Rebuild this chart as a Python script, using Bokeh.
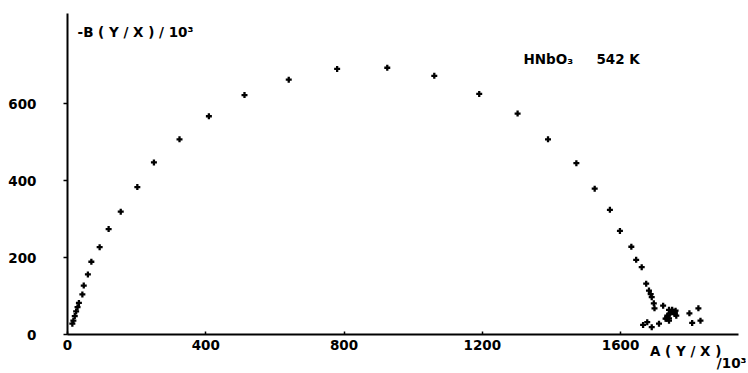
from bokeh.plotting import figure
from bokeh.models import Range1d, FixedTicker, Label, ColumnDataSource, LinearAxis
from bokeh.embed import file_html
from bokeh.resources import INLINE

# A(Y/X)/10^3 and -B(Y/X)/10^3
A_vals = [14, 17, 21, 25, 29, 33, 43, 47, 59, 69, 93, 119, 154, 202, 250, 324,
          409, 512, 640, 780, 925, 1061, 1191, 1302, 1390, 1472, 1525, 1569,
          1598, 1631, 1645, 1661, 1674, 1682, 1687, 1690, 1696, 1698,
          1723, 1749, 1742, 1757, 1735, 1730, 1740, 1761, 1799, 1825, 1807, 1831,
          1711, 1690, 1677, 1665,
          1740, 1749, 1759, 1745, 1757, 1735, 1740, 1733]
B_vals = [28, 36, 48, 60, 71, 82, 104, 127, 156, 189, 227, 274, 319, 383, 447, 507,
          567, 622, 662, 690, 693, 672, 625, 574, 507, 445, 379, 324,
          269, 228, 194, 175, 132, 114, 105, 97, 81, 68,
          75, 62, 54, 58, 45, 41, 36, 49, 55, 68, 30, 36,
          28, 19, 32, 25,
          64, 64, 62, 57, 53, 49, 42, 41]

x_ticks = [0, 400, 800, 1200, 1600]
y_ticks = [0, 200, 400, 600]

y_title = "-B ( Y / X )   /  10³"
x_title_a = "A ( Y / X )"
x_title_b = "/10³"
x_title_pos = [1788, 1927]
compound = "HNbO₃"
temperature = "542 K"

FONT = "DejaVu Sans"

src = ColumnDataSource(data=dict(a=A_vals, b=B_vals))

p = figure(width=746, height=373, x_range=Range1d(0, 1941), y_range=Range1d(0, 834),
           output_backend="svg", toolbar_location=None,
           min_border_left=67, min_border_right=8, min_border_top=13, min_border_bottom=39)
p.outline_line_color = None
p.grid.visible = False

p.scatter("a", "b", source=src, marker="cross", size=6, line_width=2.3,
          line_color="black")

for ax in (p.xaxis[0], p.yaxis[0]):
    ax.axis_line_width = 2
    ax.axis_line_color = "black"
    ax.major_tick_line_width = 1.5
    ax.minor_tick_line_color = None
    ax.major_label_text_font = FONT
    ax.major_label_text_font_size = "13.5px"
    ax.major_label_text_font_style = "bold"
    ax.major_label_text_color = "black"

p.xaxis.ticker = FixedTicker(ticks=x_ticks)
p.xaxis.major_tick_in = 3
p.xaxis.major_tick_out = 0
p.xaxis.major_label_standoff = 5

p.yaxis.ticker = FixedTicker(ticks=y_ticks)
p.yaxis.major_tick_in = 0
p.yaxis.major_tick_out = 4
p.yaxis.major_label_standoff = 27

# axis title of the abscissa, written under the right end of the axis
title_axis = LinearAxis(ticker=FixedTicker(ticks=x_title_pos),
                        major_label_overrides={x_title_pos[0]: x_title_a,
                                               x_title_pos[1]: "\n" + x_title_b},
                        axis_line_color=None, major_tick_line_color=None,
                        minor_tick_line_color=None, major_tick_in=0, major_tick_out=0,
                        major_label_standoff=-10,
                        major_label_text_line_height=0.75,
                        major_label_text_font=FONT, major_label_text_font_size="13.5px",
                        major_label_text_font_style="bold", major_label_text_color="black")
p.add_layout(title_axis, "below")


def lab(x, y, t, size="13.5px"):
    p.add_layout(Label(x=x, y=y, text=t, text_font=FONT, text_font_size=size,
                       text_font_style="bold", text_color="black",
                       text_baseline="middle", text_align="left"))


lab(29, 787, y_title)
lab(1319, 717, compound)
lab(1530, 717, temperature)

open("out.html", "w").write(file_html(p, INLINE))
